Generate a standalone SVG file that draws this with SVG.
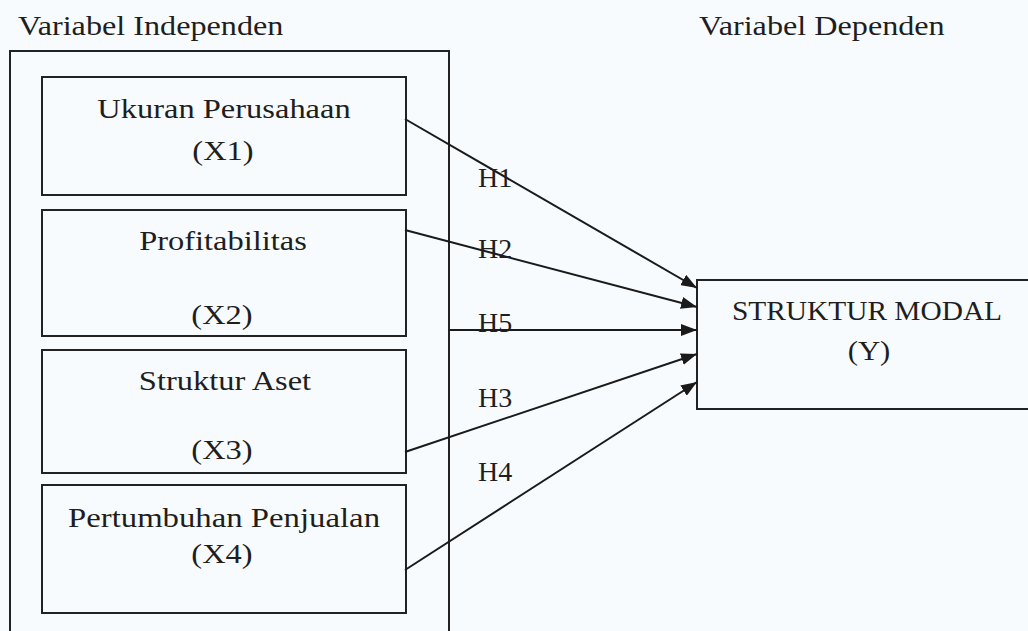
<svg xmlns="http://www.w3.org/2000/svg" width="1028" height="631" viewBox="0 0 1028 631">
<defs>
<style>
.bg{fill:#f8fbfd}
.box{fill:none;stroke:#222;stroke-width:2}
.t{font-family:"Liberation Serif","Times New Roman",serif;font-size:28px;fill:#1e1e1e}
.c{text-anchor:middle}
.ln{stroke:#1a1a1a;stroke-width:2;fill:none}
</style>
<marker id="ah" viewBox="0 0 16 12" refX="16" refY="6" markerWidth="16" markerHeight="12" markerUnits="userSpaceOnUse" orient="auto">
<path d="M0,0 L16,6 L0,12 Z" fill="#1a1a1a"/>
</marker>
</defs>
<rect class="bg" x="0" y="0" width="1028" height="631"/>
<g id="titles">
<text class="t" transform="translate(18,35) scale(1.15,1)">Variabel Independen</text>
<text class="t" transform="translate(699,35) scale(1.15,1)">Variabel Dependen</text>
</g>
<g id="independen">
<path class="box" d="M10,633 L10,51 L449,51 L449,633"/>
</g>
<g id="x1">
<rect class="box" x="42" y="77" width="364" height="118"/>
<text class="t c" transform="translate(224,118) scale(1.16,1)">Ukuran Perusahaan</text>
<text class="t c" transform="translate(223,160) scale(1.16,1)">(X1)</text>
</g>
<g id="x2">
<rect class="box" x="42" y="210" width="364" height="126"/>
<text class="t c" transform="translate(223,250) scale(1.16,1)">Profitabilitas</text>
<text class="t c" transform="translate(222,324) scale(1.16,1)">(X2)</text>
</g>
<g id="x3">
<rect class="box" x="42" y="350" width="364" height="123"/>
<text class="t c" transform="translate(225,390) scale(1.16,1)">Struktur Aset</text>
<text class="t c" transform="translate(222,459) scale(1.16,1)">(X3)</text>
</g>
<g id="x4">
<rect class="box" x="42" y="485" width="364" height="128"/>
<text class="t c" transform="translate(224,527) scale(1.17,1)">Pertumbuhan Penjualan</text>
<text class="t c" transform="translate(222,563) scale(1.16,1)">(X4)</text>
</g>
<g id="y">
<rect class="box" x="697" y="280" width="340" height="129"/>
<text class="t c" transform="translate(867,320) scale(1.05,1)">STRUKTUR MODAL</text>
<text class="t c" transform="translate(869,360) scale(1.1,1)">(Y)</text>
</g>
<g id="connectors">
<line class="ln" x1="405" y1="119" x2="697" y2="288" marker-end="url(#ah)"/>
<line class="ln" x1="405" y1="230" x2="697" y2="307" marker-end="url(#ah)"/>
<line class="ln" x1="449" y1="330" x2="697" y2="330" marker-end="url(#ah)"/>
<line class="ln" x1="405" y1="452" x2="697" y2="354" marker-end="url(#ah)"/>
<line class="ln" x1="405" y1="570" x2="697" y2="382" marker-end="url(#ah)"/>
<text class="t" transform="translate(478,187) scale(1.0,1)">H1</text>
<text class="t" transform="translate(478,258) scale(1.0,1)">H2</text>
<text class="t" transform="translate(478,332) scale(1.0,1)">H5</text>
<text class="t" transform="translate(478,407) scale(1.0,1)">H3</text>
<text class="t" transform="translate(478,481) scale(1.0,1)">H4</text>
</g>
</svg>
